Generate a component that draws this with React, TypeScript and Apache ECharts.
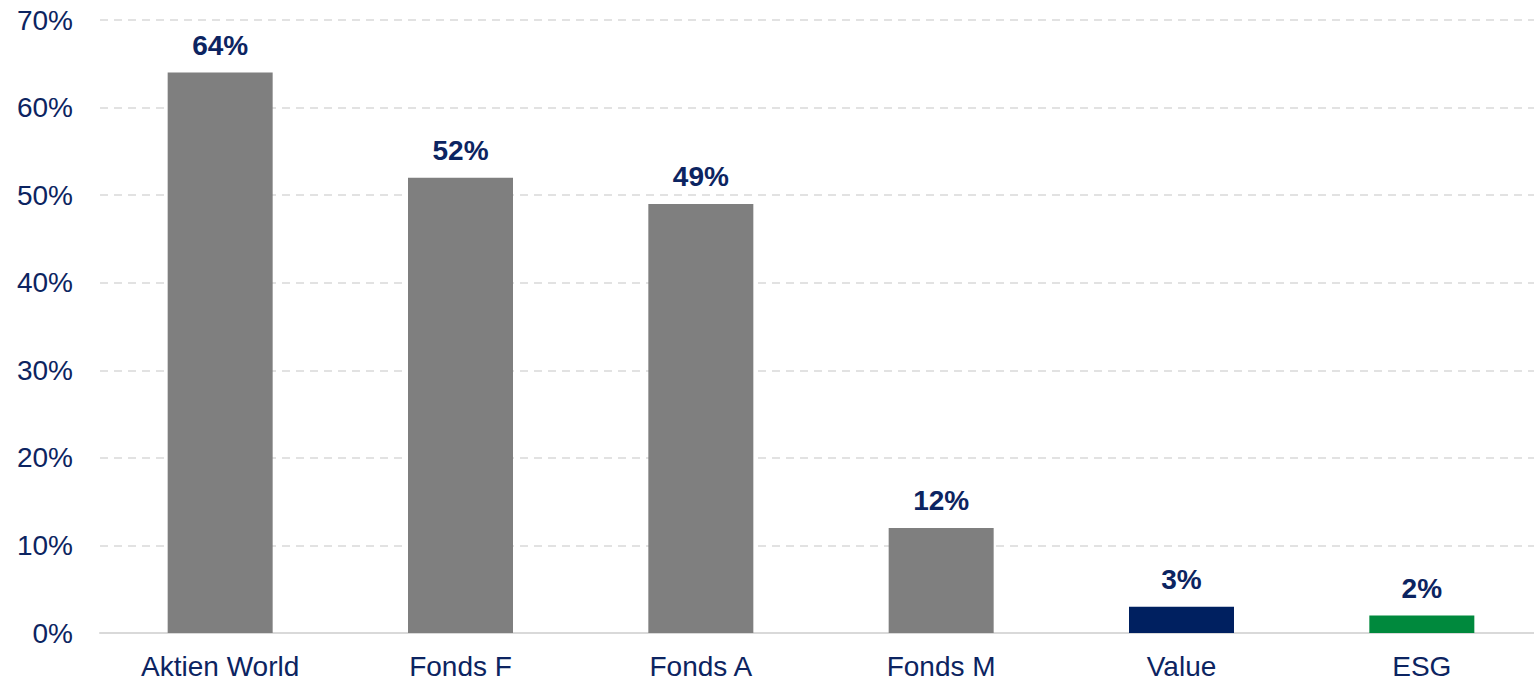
import React, { useEffect, useRef } from "react";
import * as echarts from "echarts";

const categories = ["Aktien World", "Fonds F", "Fonds A", "Fonds M", "Value", "ESG"];
const values = [64, 52, 49, 12, 3, 2];
const barColors = ["#7f7f7f", "#7f7f7f", "#7f7f7f", "#7f7f7f", "#002060", "#00893d"];

export default function App() {
  const ref = useRef<HTMLDivElement>(null);
  useEffect(() => {
    if (!ref.current) return;
    const chart = echarts.init(ref.current, null, { renderer: "svg" });
    const navy = "#0c2461";
    chart.setOption({
      animation: false,
      grid: { left: 100, right: 0, top: 20, bottom: 43, containLabel: false },
      xAxis: {
        type: "category",
        data: categories,
        axisLine: { show: true, lineStyle: { color: "#d9d9d9", width: 2 } },
        axisTick: { show: false },
        axisLabel: {
          color: navy,
          fontSize: 28,
          fontFamily: "Liberation Sans, Arial, sans-serif",
          margin: 19,
        },
      },
      yAxis: {
        type: "value",
        min: 0,
        max: 70,
        interval: 10,
        axisLine: { show: false },
        axisTick: { show: false },
        axisLabel: {
          color: navy,
          fontSize: 28,
          fontFamily: "Liberation Sans, Arial, sans-serif",
          margin: 27,
          formatter: (v: number) => v + "%",
        },
        splitLine: {
          show: true,
          lineStyle: { color: "#d9d9d9", width: 1.5, type: [8, 6] },
        },
      },
      series: [
        {
          type: "bar",
          barWidth: 105,
          data: values.map((v, i) => ({ value: v, itemStyle: { color: barColors[i] } })),
          label: {
            show: true,
            position: "top",
            distance: 13,
            color: navy,
            fontSize: 28,
            fontWeight: "bold",
            fontFamily: "Liberation Sans, Arial, sans-serif",
            formatter: (p: any) => p.value + "%",
          },
        },
      ],
    });
    return () => chart.dispose();
  }, []);
  return (
    <div
      ref={ref}
      style={{ position: "fixed", left: 0, top: 0, width: 1542, height: 680, background: "#fff" }}
    />
  );
}
